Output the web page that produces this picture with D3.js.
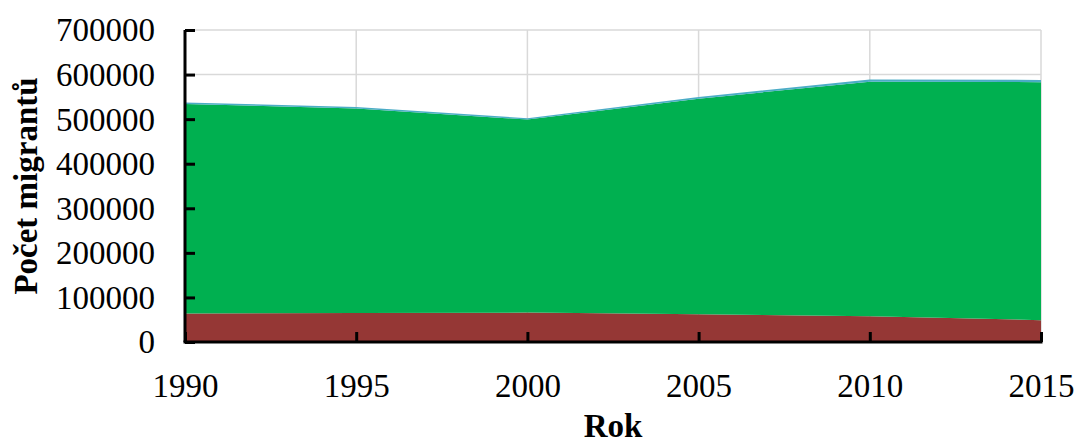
<!DOCTYPE html>
<html>
<head>
<meta charset="utf-8">
<script src="https://cdn.jsdelivr.net/npm/d3@7"></script>
<style>
  html, body { margin: 0; padding: 0; background: #fff; }
  svg { display: block; }
  text { font-family: "Liberation Serif", "Times New Roman", serif; fill: #000; }
</style>
</head>
<body>
<svg id="chart" width="1077" height="444"></svg>
<script>
// Migrant counts by year, stacked in three groups
const years = [1990, 1995, 2000, 2005, 2010, 2015];
const seriesBottom = [64000, 65000, 66000, 62000, 58000, 49000];
const seriesMiddle = [470000, 459000, 433000, 484000, 526000, 534000];
const seriesTop = [3500, 3500, 3000, 3500, 5000, 5000];
const yTicks = [0, 100000, 200000, 300000, 400000, 500000, 600000, 700000];
const seriesKeys = ["bottom", "middle", "top"];
const seriesColors = ["#953735", "#00b050", "#4bacc6"];

const rows = years.map((y, i) => ({
  year: y, bottom: seriesBottom[i], middle: seriesMiddle[i], top: seriesTop[i]
}));

const svg = d3.select("#chart");
const m = { left: 185, right: 1041, top: 30, bottom: 342 };

const x = d3.scaleLinear().domain([1990, 2015]).range([m.left, m.right]);
const y = d3.scaleLinear().domain([0, 700000]).range([m.bottom, m.top]);

// gridlines
const grid = svg.append("g");
grid.selectAll("line.h").data(yTicks.filter(d => d > 0)).join("line")
  .attr("x1", m.left).attr("x2", m.right)
  .attr("y1", d => y(d)).attr("y2", d => y(d))
  .attr("stroke", "#d9d9d9").attr("stroke-width", 1.5);
grid.selectAll("line.v").data(years.slice(1)).join("line")
  .attr("x1", d => x(d)).attr("x2", d => x(d))
  .attr("y1", m.top).attr("y2", m.bottom)
  .attr("stroke", "#d9d9d9").attr("stroke-width", 1.5);

// stacked areas
const stacked = d3.stack().keys(seriesKeys)(rows);
const area = d3.area()
  .x(d => x(d.data.year))
  .y0(d => y(d[0]))
  .y1(d => y(d[1]));
svg.append("g").selectAll("path").data(stacked).join("path")
  .attr("d", area)
  .attr("fill", (d, i) => seriesColors[i]);

// axes
const yAxis = d3.axisLeft(y).tickValues(yTicks).tickSize(-10).tickPadding(28)
  .tickFormat(d3.format("d"));
const gy = svg.append("g").attr("transform", `translate(${m.left},0)`).call(yAxis);
gy.select(".domain").attr("stroke", "#000").attr("stroke-width", 3)
  .attr("d", `M0,${m.top}V${m.bottom}`);
gy.selectAll(".tick line").attr("stroke", "#000").attr("stroke-width", 3);
gy.selectAll(".tick text")
  .attr("font-family", "Liberation Serif, Times New Roman, serif")
  .attr("font-size", 33).attr("x", -30).attr("dy", "0.33em");

const xAxis = d3.axisBottom(x).tickValues(years).tickSize(-10).tickPadding(20)
  .tickFormat(d3.format("d"));
const gx = svg.append("g").attr("transform", `translate(0,${m.bottom})`).call(xAxis);
gx.select(".domain").attr("stroke", "#000").attr("stroke-width", 3)
  .attr("d", `M${m.left - 1.5},0H${m.right + 1.5}`);
gx.selectAll(".tick line").attr("stroke", "#000").attr("stroke-width", 3);
gx.selectAll(".tick text")
  .attr("font-family", "Liberation Serif, Times New Roman, serif")
  .attr("font-size", 33).attr("y", 0).attr("dy", 55);

// axis titles
svg.append("text")
  .attr("x", (m.left + m.right) / 2).attr("y", 437)
  .attr("text-anchor", "middle")
  .attr("font-size", 33).attr("font-weight", "bold")
  .text("Rok");
svg.append("text")
  .attr("transform", `translate(37,${(m.top + m.bottom) / 2}) rotate(-90)`)
  .attr("text-anchor", "middle")
  .attr("font-size", 33).attr("font-weight", "bold")
  .text("Počet migrantů");
</script>
</body>
</html>
